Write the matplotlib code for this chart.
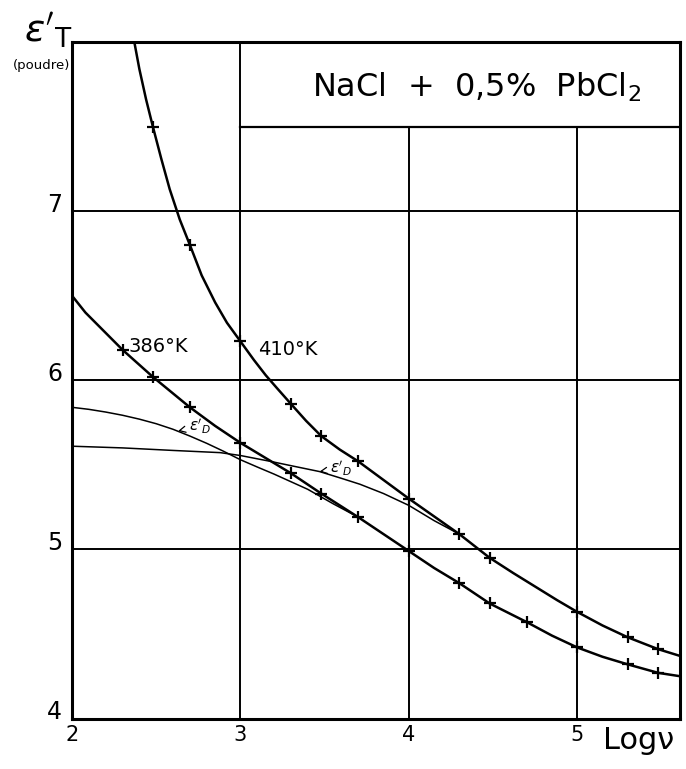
import matplotlib.pyplot as plt
import matplotlib.transforms as mtransforms

# measured points (log nu, eps'_T)
x_410 = [2.48, 2.70, 3.00, 3.30, 3.48, 3.70, 4.00, 4.30, 4.48, 5.00, 5.30, 5.48]
eps_410 = [7.50, 6.80, 6.23, 5.86, 5.67, 5.52, 5.30, 5.09, 4.95, 4.63, 4.48, 4.41]

x_386 = [2.30, 2.48, 2.70, 3.00, 3.30, 3.48, 3.70, 4.00, 4.30, 4.48, 4.70, 5.00, 5.30, 5.48]
eps_386 = [6.18, 6.02, 5.84, 5.63, 5.45, 5.33, 5.19, 4.99, 4.80, 4.68, 4.57, 4.42, 4.32, 4.27]

# drawn curves
curve_410_x = [2.37, 2.40, 2.44, 2.48, 2.53, 2.58, 2.64, 2.70, 2.77, 2.85, 2.92, 3.00,
               3.08, 3.15, 3.22, 3.30, 3.39, 3.48, 3.59, 3.70, 3.85, 4.00, 4.15, 4.30,
               4.48, 4.62, 4.75, 4.88, 5.00, 5.15, 5.30, 5.48, 5.61]
curve_410_y = [8.00, 7.84, 7.66, 7.50, 7.31, 7.13, 6.95, 6.80, 6.62, 6.46, 6.34, 6.23,
               6.12, 6.03, 5.95, 5.86, 5.76, 5.67, 5.59, 5.52, 5.41, 5.30, 5.195, 5.09,
               4.95, 4.86, 4.78, 4.70, 4.63, 4.55, 4.48, 4.41, 4.37]

curve_386_x = [2.00, 2.08, 2.15, 2.22, 2.30, 2.39, 2.48, 2.59, 2.70, 2.85, 3.00, 3.15,
               3.30, 3.48, 3.59, 3.70, 3.85, 4.00, 4.15, 4.30, 4.48, 4.70, 4.85, 5.00,
               5.15, 5.30, 5.48, 5.61]
curve_386_y = [6.50, 6.40, 6.33, 6.26, 6.18, 6.10, 6.02, 5.93, 5.84, 5.73, 5.63, 5.54,
               5.45, 5.33, 5.26, 5.19, 5.09, 4.99, 4.89, 4.80, 4.68, 4.57, 4.49, 4.42,
               4.365, 4.32, 4.27, 4.25]

# eps'_D curves (thin, no points)
epsD_386_x = [2.00, 2.10, 2.20, 2.30, 2.40, 2.50, 2.60, 2.70, 2.80, 2.90, 3.00, 3.10,
              3.20, 3.30, 3.40, 3.55, 3.70]
epsD_386_y = [5.84, 5.828, 5.812, 5.793, 5.77, 5.743, 5.71, 5.67, 5.627, 5.58, 5.53, 5.487,
              5.445, 5.40, 5.355, 5.27, 5.19]

epsD_410_x = [2.00, 2.30, 2.60, 2.88, 3.00, 3.18, 3.30, 3.47, 3.60, 3.71, 3.85, 4.00,
              4.15, 4.30]
epsD_410_y = [5.61, 5.60, 5.585, 5.572, 5.555, 5.52, 5.495, 5.46, 5.42, 5.385, 5.33, 5.26,
              5.17, 5.09]

xticks = [2, 3, 4, 5]
yticks = [4, 5, 6, 7]

fig = plt.figure(figsize=(6.86, 7.69), dpi=100)
ax = fig.add_axes([72/686, 1 - 718.5/769, 608/686, 676.5/769])
ax.set_xlim(2, 5.61)
ax.set_ylim(4, 8)

# grid (x=4,5 stop under the title box)
for yv in [5, 6, 7]:
    ax.axhline(yv, color='black', lw=1.4, zorder=1)
ax.axvline(3, color='black', lw=1.4, zorder=1)
for xv in [4, 5]:
    ax.axvline(xv, ymax=0.875, color='black', lw=1.4, zorder=1)
ax.axhline(7.5, xmin=(3 - 2) / 3.61, color='black', lw=1.6, zorder=1)

for sp in ax.spines.values():
    sp.set_linewidth(2.2)

ax.plot(curve_410_x, curve_410_y, color='black', lw=1.8, zorder=3)
ax.plot(curve_386_x, curve_386_y, color='black', lw=1.8, zorder=3)
ax.plot(x_410, eps_410, ls='none', marker='+', ms=8, mew=1.6, color='black', zorder=4)
ax.plot(x_386, eps_386, ls='none', marker='+', ms=8, mew=1.6, color='black', zorder=4)
ax.plot(epsD_386_x, epsD_386_y, color='black', lw=1.1, zorder=2)
ax.plot(epsD_410_x, epsD_410_y, color='black', lw=1.1, zorder=2)

ax.set_xticks(xticks)
ax.set_yticks(yticks)
ax.set_xticklabels([str(v) for v in xticks], fontsize=15)
ax.set_yticklabels([str(v) for v in yticks], fontsize=17)
ax.tick_params(axis='both', length=0)
ax.tick_params(axis='x', pad=5)
ax.tick_params(axis='y', pad=7)
off = mtransforms.ScaledTranslation(0, 0.09, fig.dpi_scale_trans)
for lab in ax.get_yticklabels():
    lab.set_transform(lab.get_transform() + off)

ax.text(4.40, 7.73, 'NaCl  +  0,5%  PbCl$_2$', fontsize=23, ha='center', va='center')
ax.text(2.51, 6.20, '386°K', fontsize=14, ha='center', va='center')
ax.text(3.28, 6.18, '410°K', fontsize=14, ha='center', va='center')

ax.annotate(r"$\varepsilon'_D$", xy=(2.63, 5.70), xytext=(2.76, 5.73), fontsize=11,
            ha='center', va='center',
            arrowprops=dict(arrowstyle='->', lw=0.9, color='black', shrinkA=4, shrinkB=0))
ax.annotate(r"$\varepsilon'_D$", xy=(3.47, 5.46), xytext=(3.60, 5.48), fontsize=11,
            ha='center', va='center',
            arrowprops=dict(arrowstyle='->', lw=0.9, color='black', shrinkA=4, shrinkB=0))

xlab_tr = mtransforms.blended_transform_factory(ax.transData, ax.transAxes)
ax.text(5.15, -0.032, 'Logν', fontsize=22, ha='left', va='center', transform=xlab_tr)

fig.text(48/686, 1 - 30/769, r"$\varepsilon'_{\rm T}$", fontsize=27, ha='center', va='center')
fig.text(42/686, 1 - 66/769, '(poudre)', fontsize=9.5, ha='center', va='center')

fig.savefig('out.png', dpi=100)
